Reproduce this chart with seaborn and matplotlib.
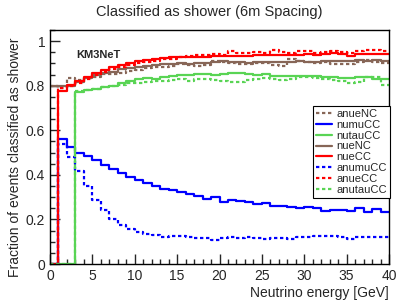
import matplotlib
matplotlib.use("Agg")
import matplotlib.pyplot as plt
import seaborn as sns
import numpy as np
from matplotlib.ticker import MultipleLocator, FuncFormatter

# 1 GeV bins from 0 to 40
edges = np.arange(0, 41)

nueCC = [0, 0.778, 0.803, 0.82, 0.84, 0.858, 0.87, 0.884, 0.895, 0.903,
         0.91, 0.915, 0.92, 0.924, 0.927, 0.929, 0.930, 0.931, 0.930, 0.932,
         0.934, 0.933, 0.935, 0.935, 0.937, 0.936, 0.938, 0.937, 0.940, 0.939,
         0.941, 0.938, 0.941, 0.946, 0.942, 0.933, 0.941, 0.944, 0.943, 0.942]
anueCC = [0, 0.79, 0.797, 0.812, 0.83, 0.85, 0.862, 0.875, 0.885, 0.893,
          0.9, 0.907, 0.913, 0.918, 0.922, 0.930, 0.935, 0.937, 0.940, 0.942,
          0.940, 0.955, 0.948, 0.945, 0.950, 0.946, 0.960, 0.950, 0.945, 0.955,
          0.955, 0.946, 0.952, 0.955, 0.953, 0.945, 0.958, 0.962, 0.962, 0.955]
nueNC = [0.80, 0.80, 0.80, 0.817, 0.833, 0.848, 0.858, 0.863, 0.873, 0.878,
         0.885, 0.889, 0.893, 0.896, 0.898, 0.900, 0.898, 0.902, 0.904, 0.906,
         0.912, 0.908, 0.905, 0.904, 0.906, 0.905, 0.907, 0.906, 0.908, 0.910,
         0.908, 0.906, 0.909, 0.910, 0.911, 0.913, 0.915, 0.911, 0.914, 0.912]
anueNC = [0.80, 0.79, 0.835, 0.825, 0.835, 0.84, 0.852, 0.853, 0.858, 0.865,
          0.87, 0.878, 0.882, 0.885, 0.89, 0.898, 0.892, 0.890, 0.895, 0.912,
          0.905, 0.900, 0.898, 0.897, 0.900, 0.902, 0.895, 0.890, 0.918, 0.912,
          0.905, 0.900, 0.905, 0.898, 0.897, 0.896, 0.905, 0.915, 0.905, 0.902]
nutauCC = [0, 0, 0, 0.77, 0.78, 0.787, 0.793, 0.80, 0.81, 0.82,
           0.83, 0.835, 0.83, 0.84, 0.845, 0.848, 0.850, 0.852, 0.851, 0.850,
           0.852, 0.858, 0.856, 0.853, 0.850, 0.851, 0.845, 0.843, 0.842, 0.843,
           0.845, 0.842, 0.840, 0.838, 0.833, 0.835, 0.838, 0.838, 0.832, 0.830]
anutauCC = [0, 0, 0, 0.776, 0.78, 0.786, 0.792, 0.80, 0.802, 0.81,
            0.812, 0.815, 0.82, 0.822, 0.825, 0.828, 0.82, 0.83, 0.832, 0.825,
            0.82, 0.818, 0.815, 0.825, 0.832, 0.833, 0.828, 0.826, 0.83, 0.84,
            0.838, 0.835, 0.828, 0.826, 0.82, 0.812, 0.815, 0.838, 0.84, 0.805]
numuCC = [0, 0.56, 0.523, 0.496, 0.484, 0.466, 0.444, 0.425, 0.407, 0.392,
          0.377, 0.362, 0.352, 0.335, 0.33, 0.322, 0.316, 0.306, 0.291, 0.299,
          0.277, 0.287, 0.282, 0.277, 0.269, 0.272, 0.26, 0.26, 0.254, 0.251,
          0.257, 0.253, 0.239, 0.242, 0.244, 0.239, 0.25, 0.235, 0.247, 0.232]
anumuCC = [0, 0.537, 0.481, 0.418, 0.35, 0.287, 0.242, 0.2, 0.175, 0.156,
           0.145, 0.135, 0.13, 0.12, 0.127, 0.125, 0.122, 0.115, 0.118, 0.107,
           0.117, 0.12, 0.118, 0.12, 0.115, 0.113, 0.117, 0.118, 0.113, 0.12,
           0.12, 0.124, 0.127, 0.124, 0.122, 0.11, 0.12, 0.12, 0.122, 0.122]

red, blue, green, brown = "#ff0000", "#0000ff", "#59d454", "#876657"
dotted = (0, (1.5, 1.2))

# same order as the legend
series = [
    ("anueNC", anueNC, brown, dotted),
    ("numuCC", numuCC, blue, "-"),
    ("nutauCC", nutauCC, green, "-"),
    ("nueNC", nueNC, brown, "-"),
    ("nueCC", nueCC, red, "-"),
    ("anumuCC", anumuCC, blue, dotted),
    ("anueCC", anueCC, red, dotted),
    ("anutauCC", anutauCC, green, dotted),
]

sns.set_style("ticks")
plt.rcParams["font.family"] = ["Liberation Sans", "DejaVu Sans"]
plt.rcParams["xtick.direction"] = "in"
plt.rcParams["ytick.direction"] = "in"

fig = plt.figure(figsize=(4.19, 3.04), dpi=100)
ax = fig.add_axes([50/419, 1-264/304, 339/419, 234/304])

for name, vals, col, ls in series:
    y = np.append(vals, vals[-1])
    sns.lineplot(x=edges, y=y, ax=ax, drawstyle="steps-post", color=col,
                 linestyle=ls, linewidth=1.6, label=name, errorbar=None)

ax.set_xlim(0, 40)
ax.set_ylim(0, 1.05)
ax.xaxis.set_major_locator(MultipleLocator(5))
ax.xaxis.set_minor_locator(MultipleLocator(1))
ax.yaxis.set_major_locator(MultipleLocator(0.2))
ax.yaxis.set_minor_locator(MultipleLocator(0.05))
ax.yaxis.set_major_formatter(FuncFormatter(lambda v, p: f"{v:g}"))
ax.tick_params(which="major", length=7, width=1, labelsize=10, pad=3.5)
ax.tick_params(which="minor", length=3.5, width=1)
ax.tick_params(top=False, right=False)
for s in ax.spines.values():
    s.set_linewidth(1)
    s.set_color("black")

ax.set_xlabel("Neutrino energy [GeV]", fontsize=10, loc="right", labelpad=2)
ax.set_ylabel("Fraction of events classified as shower", fontsize=10, loc="top")
ax.yaxis.set_label_coords(-0.082, 0.97)
fig.suptitle("Classified as shower (6m Spacing)", x=0.5, y=1-12/304,
             va="center", fontsize=10.5)
ax.text(3.06, 0.94, "KM3NeT", fontsize=8, fontweight="bold", va="center")

leg = ax.legend(loc="upper left", bbox_to_anchor=(313/419, 1-106/304),
                bbox_transform=fig.transFigure, fontsize=8, frameon=True,
                fancybox=False, framealpha=1, edgecolor="black",
                borderaxespad=0, labelspacing=0.08, handlelength=1.5,
                handletextpad=0.35, borderpad=0.25)
leg.get_frame().set_linewidth(0.8)

fig.savefig("out.png", dpi=100)
plt.close(fig)
